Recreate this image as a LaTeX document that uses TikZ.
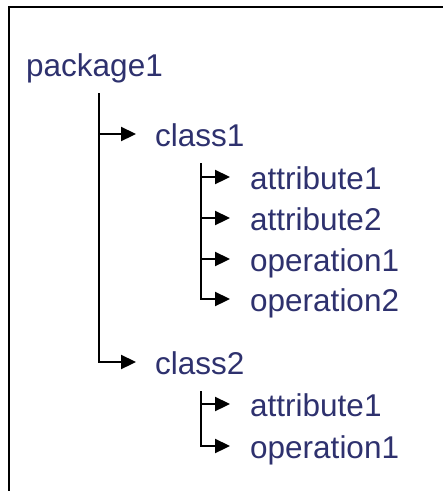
\documentclass[tikz,border=0pt]{standalone}
\usepackage{fontspec}
\setmainfont{Liberation Sans}
\usetikzlibrary{arrows.meta}
\definecolor{navy}{RGB}{46,49,110}
\tikzset{
  lbl/.style={anchor=base west, inner sep=0pt, text height=24pt, text depth=0pt,
    font=\fontsize{31.5}{31.5}\selectfont, text=navy},
  conn/.style={line width=2.3pt, draw=black},
  arr/.style={conn, -{Triangle[length=15pt,width=14pt]}},
}
\begin{document}
\begin{tikzpicture}[x=1pt,y=-1pt]
\useasboundingbox (0,0) rectangle (443,491);
% frame (open on the right and bottom)
\draw[line width=2.2pt] (9,492) -- (9,7) -- (444,7);

\node[lbl] (pkg) at (26,76) {package1};
\node[lbl] (c1) at (155,146) {class1};
\node[lbl] (c1a1) at (250,189) {attribute1};
\node[lbl] (c1a2) at (250,230) {attribute2};
\node[lbl] (c1o1) at (250,271) {operation1};
\node[lbl] (c1o2) at (250,311) {operation2};
\node[lbl] (c2) at (155,374) {class2};
\node[lbl] (c2a1) at (250,416) {attribute1};
\node[lbl] (c2o1) at (250,458) {operation1};

\coordinate (t0) at (99,93);
\coordinate (t1) at (201,163);
\coordinate (t2) at (201,391);

\draw[arr] (t0) |- ([xshift=-19pt]c2.west);
\draw[arr] (t0 |- c1.west) -- ([xshift=-19pt]c1.west);

\draw[arr] (t1) |- ([xshift=-20pt]c1o2.west);
\draw[arr] (t1 |- c1a1.west) -- ([xshift=-20pt]c1a1.west);
\draw[arr] (t1 |- c1a2.west) -- ([xshift=-20pt]c1a2.west);
\draw[arr] (t1 |- c1o1.west) -- ([xshift=-20pt]c1o1.west);

\draw[arr] (t2) |- ([xshift=-20pt]c2o1.west);
\draw[arr] (t2 |- c2a1.west) -- ([xshift=-20pt]c2a1.west);
\end{tikzpicture}
\end{document}
